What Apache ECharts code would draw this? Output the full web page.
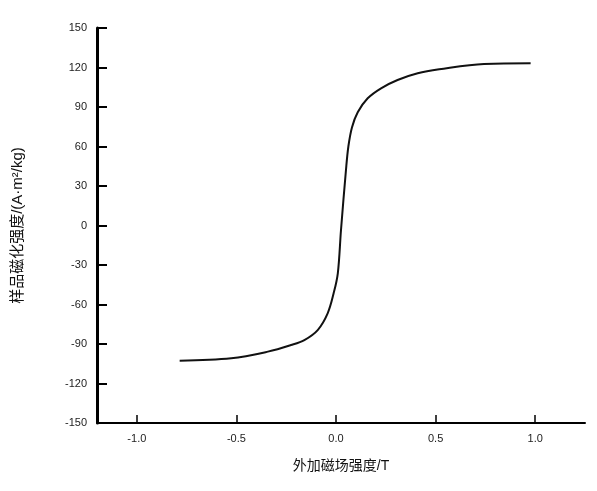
<!DOCTYPE html>
<html><head><meta charset="utf-8">
<script src="https://cdn.jsdelivr.net/npm/echarts@6/dist/echarts.min.js"></script>
<style>html,body{margin:0;padding:0;background:#fff}#c{width:597px;height:491px}</style>
</head><body><div id="c"></div>
<script>
const fieldX = [-0.785, -0.526, -0.342, -0.226, -0.159, -0.092, -0.042, -0.012, 0.009, 0.025, 0.050, 0.062, 0.080, 0.109, 0.159, 0.226, 0.309, 0.41, 0.518, 0.743, 0.977];
const magnetization = [-102.7, -100.9, -95.8, -90.8, -87.0, -79.4, -66.7, -51.5, -36.3, -3.4, 42.2, 60.0, 74.5, 86.0, 96.6, 104.2, 110.5, 115.6, 118.6, 122.7, 123.2];
const xTicks = [-1.0, -0.5, 0.0, 0.5, 1.0];
const yTicks = [-150, -120, -90, -60, -30, 0, 30, 60, 90, 120, 150];
const xTitle = '外加磁场强度/T';
const yTitle = '样品磁化强度/(A·m²/kg)';

const chart = echarts.init(document.getElementById('c'));
const font = 'Liberation Sans, Noto Sans CJK SC, sans-serif';
chart.setOption({
  animation: false,
  grid: {left: 97, right: 12, top: 28, bottom: 68},
  xAxis: {
    type: 'value', min: -1.2, max: 1.25,
    name: xTitle, nameLocation: 'middle', nameGap: 36,
    nameTextStyle: {color: '#111', fontSize: 14, fontFamily: font},
    axisLine: {onZero: false, lineStyle: {color: '#000', width: 2}},
    axisTick: {inside: true, length: 8, lineStyle: {color: '#000', width: 1.5}, customValues: xTicks},
    axisLabel: {color: '#222', fontSize: 11, fontFamily: font, margin: 10, customValues: xTicks,
      formatter: v => v.toFixed(1)},
    splitLine: {show: false}
  },
  yAxis: {
    type: 'value', min: -150, max: 150,
    name: yTitle, nameLocation: 'middle', nameGap: 72, nameRotate: 90,
    nameTextStyle: {color: '#111', fontSize: 15, fontFamily: font},
    axisLine: {onZero: false, lineStyle: {color: '#000', width: 3}},
    axisTick: {inside: true, length: 10, lineStyle: {color: '#000', width: 2}, customValues: yTicks},
    axisLabel: {color: '#222', fontSize: 11, fontFamily: font, margin: 10, customValues: yTicks},
    splitLine: {show: false}
  },
  series: [{
    type: 'line', smooth: 0.35, symbol: 'none',
    data: fieldX.map((x, i) => [x, magnetization[i]]),
    lineStyle: {color: '#111', width: 2}
  }]
});
</script></body></html>
